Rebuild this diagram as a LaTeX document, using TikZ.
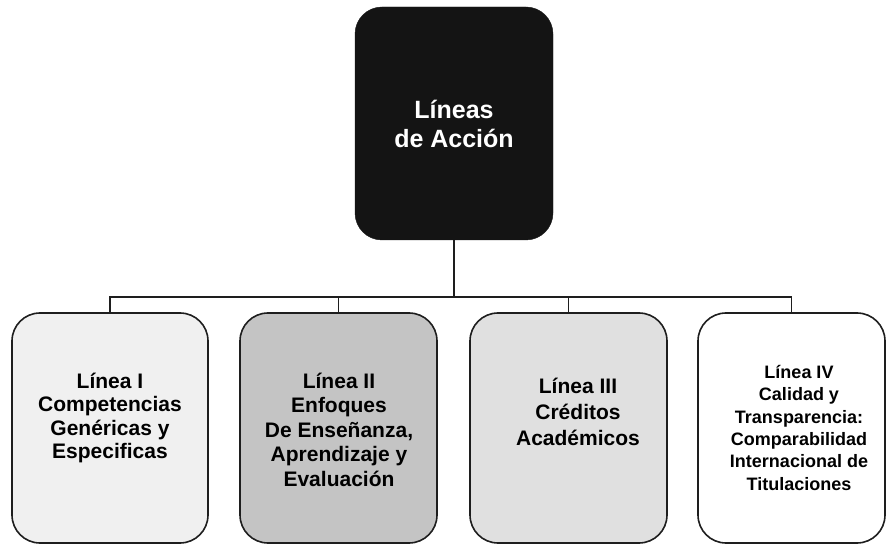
\documentclass[tikz,border=0pt]{standalone}
\usepackage{fontspec}
\setmainfont{Liberation Sans}
\definecolor{topfill}{HTML}{141414}
\definecolor{fillA}{HTML}{F0F0F0}
\definecolor{fillB}{HTML}{C4C4C4}
\definecolor{fillC}{HTML}{E0E0E0}
\definecolor{edge}{HTML}{1E1E1E}
\tikzset{
  card/.style={draw=edge, line width=1.6pt, rounded corners=28pt, inner sep=0pt,
    minimum width=#1, minimum height=230pt},
  headcard/.style={draw=topfill, fill=topfill, rounded corners=27pt, inner sep=0pt,
    minimum width=198pt, minimum height=233pt},
  label/.style={anchor=north, inner sep=0pt, align=center, font=\bfseries},
  link/.style={draw=edge, line width=1.5pt},
}
\newcommand{\firstline}[1]{\rule{0pt}{#1}}
\begin{document}
\begin{tikzpicture}[x=1pt, y=-1pt]
  \useasboundingbox (0,0) rectangle (887,545);

  % header box
  \node[headcard] (top) at (454,123.5) {};
  \node[label, text=white, font=\bfseries\fontsize{25}{29}\selectfont] (toptext) at (454,93)
    {\firstline{25pt}Líneas\\de Acción};

  % the four lines of action
  \node[card=196pt, fill=fillA] (b1) at (110,428) {};
  \node[card=197pt, fill=fillB] (b2) at (338.5,428) {};
  \node[card=197pt, fill=fillC] (b3) at (568.5,428) {};
  \node[card=187pt, fill=white] (b4) at (791.5,428) {};

  \node[label, font=\bfseries\fontsize{21}{23.5}\selectfont] (t1) at (110,367)
    {\firstline{21pt}Línea I\\Competencias\\Genéricas y\\Especificas};
  \node[label, font=\bfseries\fontsize{21}{24.5}\selectfont] (t2) at (339,367)
    {\firstline{21pt}Línea II\\Enfoques\\De Enseñanza,\\Aprendizaje y\\Evaluación};
  \node[label, font=\bfseries\fontsize{21}{26}\selectfont] (t3) at (578,372)
    {\firstline{21pt}Línea III\\Créditos\\Académicos};
  \node[label, font=\bfseries\fontsize{18}{22.4}\selectfont] (t4) at (799,360)
    {\firstline{18pt}Línea IV\\Calidad y\\Transparencia:\\Comparabilidad\\Internacional de\\Titulaciones};

  % connectors
  \coordinate (hub) at (455,297);
  \draw[link, line width=2.6pt] (top.south) -- (top.south |- hub);
  \draw[link] (b1.north) |- (hub) -| (b4.north);
  \draw[link] (b2.north) -- (b2.north |- hub);
  \draw[link] (b3.north) -- (b3.north |- hub);
\end{tikzpicture}
\end{document}
